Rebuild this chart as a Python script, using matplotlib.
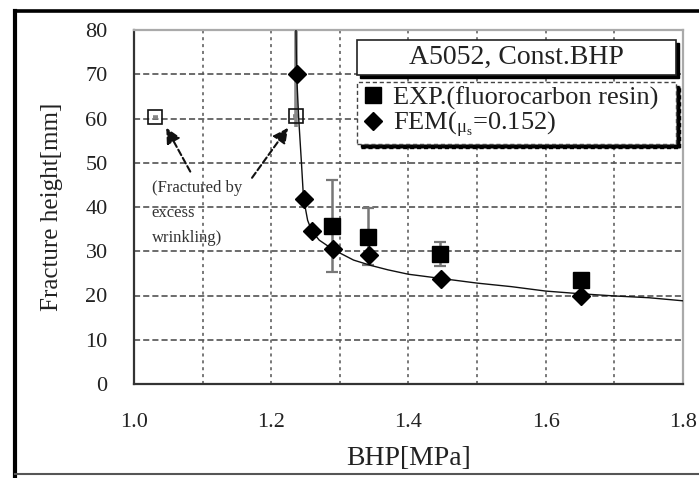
import matplotlib.pyplot as plt
import matplotlib.transforms as mtransforms
from matplotlib.lines import Line2D
from matplotlib.patches import Rectangle
import numpy as np

plt.rcParams['font.family'] = ['Liberation Serif', 'DejaVu Serif']
plt.rcParams['mathtext.fontset'] = 'custom'
plt.rcParams['mathtext.rm'] = 'Liberation Serif'
plt.rcParams['mathtext.it'] = 'Liberation Serif'

# experiment (fluorocarbon resin)
exp_x = [1.289, 1.341, 1.446, 1.651]
exp_y = [35.8, 33.3, 29.4, 23.5]
exp_lo = [25.2, 27.0, 26.7, 23.0]
exp_hi = [46.2, 39.8, 32.1, 24.0]

# fractured by excess wrinkling (open squares)
frac_x = [1.031, 1.236]
frac_y = [60.3, 60.6]
frac_lo = [60.3, 58.0]
frac_hi = [60.3, 92.0]

# FEM points and curve
fem_x = [1.237, 1.247, 1.259, 1.290, 1.343, 1.447, 1.652]
fem_y = [70.0, 41.9, 34.6, 30.5, 29.2, 23.7, 19.8]
curve_x = [1.236, 1.237, 1.240, 1.244, 1.247, 1.253, 1.259, 1.270, 1.290,
           1.320, 1.345, 1.370, 1.400, 1.450, 1.500, 1.550, 1.600, 1.650,
           1.700, 1.750, 1.800]
curve_y = [80.0, 70.0, 60.0, 50.0, 42.0, 37.0, 34.6, 32.5, 30.4,
           28.0, 26.8, 25.8, 24.8, 23.8, 22.8, 22.0, 21.0, 20.4,
           19.9, 19.5, 18.8]

x_ticks = [1.0, 1.1, 1.2, 1.3, 1.4, 1.5, 1.6, 1.7, 1.8]
x_labels = ['1.0', '', '1.2', '', '1.4', '', '1.6', '', '1.8']
y_ticks = [0, 10, 20, 30, 40, 50, 60, 70, 80]

fig = plt.figure(figsize=(6.99, 4.78), dpi=100)
ax = fig.add_axes([134 / 699, 1 - 384 / 478, 549 / 699, 354 / 478])

ax.set_xlim(1.0, 1.8)
ax.set_ylim(0, 80)
ax.set_xticks(x_ticks)
ax.set_xticklabels(x_labels)
ax.set_yticks(y_ticks)
ax.tick_params(length=0, labelsize=16, colors='#222')
ax.tick_params(axis='y', pad=19)
ax.tick_params(axis='x', pad=21)

# grid
for yv in y_ticks[1:-1]:
    ax.axhline(yv, color='#444', lw=1.1, ls=(0, (4, 2)), zorder=0)
for xv in x_ticks[1:-1]:
    ax.axvline(xv, color='#555', lw=1.1, ls=(0, (2, 2.5)), zorder=0)

for side in ['left', 'bottom']:
    ax.spines[side].set_color('#333')
    ax.spines[side].set_linewidth(1.6)
for side in ['top', 'right']:
    ax.spines[side].set_color('#aaa')
    ax.spines[side].set_linewidth(1.6)

# FEM curve
ax.plot(curve_x, curve_y, color='#111', lw=1.0, zorder=3)

# open squares with error bars
fy = np.array(frac_y)
ax.errorbar(frac_x, frac_y,
            yerr=[fy - np.array(frac_lo), np.array(frac_hi) - fy],
            xerr=0.004, fmt='none', ecolor='#888', elinewidth=2.6,
            capsize=0, zorder=2)
ax.plot(frac_x, frac_y, 's', ms=9.5, mfc='none', mec='#111', mew=1.2,
        zorder=4)

# experiment
ey = np.array(exp_y)
ax.errorbar(exp_x, exp_y,
            yerr=[ey - np.array(exp_lo), np.array(exp_hi) - ey],
            fmt='none', ecolor='#777', elinewidth=1.8, capsize=4,
            capthick=1.6, zorder=2)
h_exp, = ax.plot(exp_x, exp_y, 's', ms=11.5, color='black', zorder=5,
                 label='EXP.(fluorocarbon resin)')
h_fem, = ax.plot(fem_x, fem_y, 'D', ms=9.5, color='black', zorder=6,
                 label=r'FEM($_{\mathrm{μ_s}}$=0.152)')

ax.set_ylabel('Fracture height[mm]', fontsize=18, color='#222', labelpad=16)
ax.set_xlabel('BHP[MPa]', fontsize=20, color='#222', labelpad=10)

# annotation text and arrows
ax.text(1.026, 46.0, '(Fractured by\nexcess\nwrinkling)', fontsize=12,
        color='#333', va='top', ha='left', linespacing=1.75)
arrow = dict(arrowstyle='-|>,head_length=0.9,head_width=0.45',
             color='#111', lw=1.5, ls=(0, (3, 1.5)), shrinkA=0, shrinkB=0)
ax.annotate('', xy=(1.047, 57.9), xytext=(1.082, 48.0), arrowprops=arrow)
ax.annotate('', xy=(1.2245, 57.9), xytext=(1.172, 46.6), arrowprops=arrow)

# title box with shadow
shadow_tr = mtransforms.offset_copy(ax.transAxes, fig=fig, x=3, y=-3,
                                    units='dots')
ax.add_patch(Rectangle((0.406, 0.873), 0.581, 0.099, transform=shadow_tr,
                       facecolor='black', edgecolor='black', zorder=7,
                       clip_on=False))
ax.add_patch(Rectangle((0.406, 0.873), 0.581, 0.099, transform=ax.transAxes,
                       facecolor='white', edgecolor='#222', lw=1.2, zorder=8,
                       clip_on=False))
ax.text(0.696, 0.922, 'A5052, Const.BHP', transform=ax.transAxes,
        fontsize=20, color='#222', ha='center', va='center', zorder=9)

# legend
leg = ax.legend(handles=[h_exp, h_fem], loc='upper left',
                bbox_to_anchor=(0.406, 0.672, 0.581, 0.181), mode='expand',
                fontsize=19, handlelength=0.9, handletextpad=0.3,
                labelspacing=0.0, borderpad=0.15, borderaxespad=0,
                fancybox=False, framealpha=1, edgecolor='#444',
                shadow={'color': 'black', 'alpha': 1, 'ox': 3, 'oy': -3},
                markerscale=0.95)
leg.get_frame().set_linestyle((0, (3, 2)))
leg.set_zorder(10)
for t in leg.get_texts():
    t.set_color('#222')

# outer frame of the picture
fig.add_artist(Line2D([15 / 699, 1], [1 - 11 / 478] * 2, color='black',
                      lw=2.6, transform=fig.transFigure))
fig.add_artist(Line2D([15 / 699] * 2, [0, 1 - 11 / 478], color='black',
                      lw=3.0, transform=fig.transFigure))
fig.add_artist(Line2D([15 / 699, 1], [1 - 474 / 478] * 2, color='#555',
                      lw=1.5, transform=fig.transFigure))

fig.savefig('out.png', dpi=100)
